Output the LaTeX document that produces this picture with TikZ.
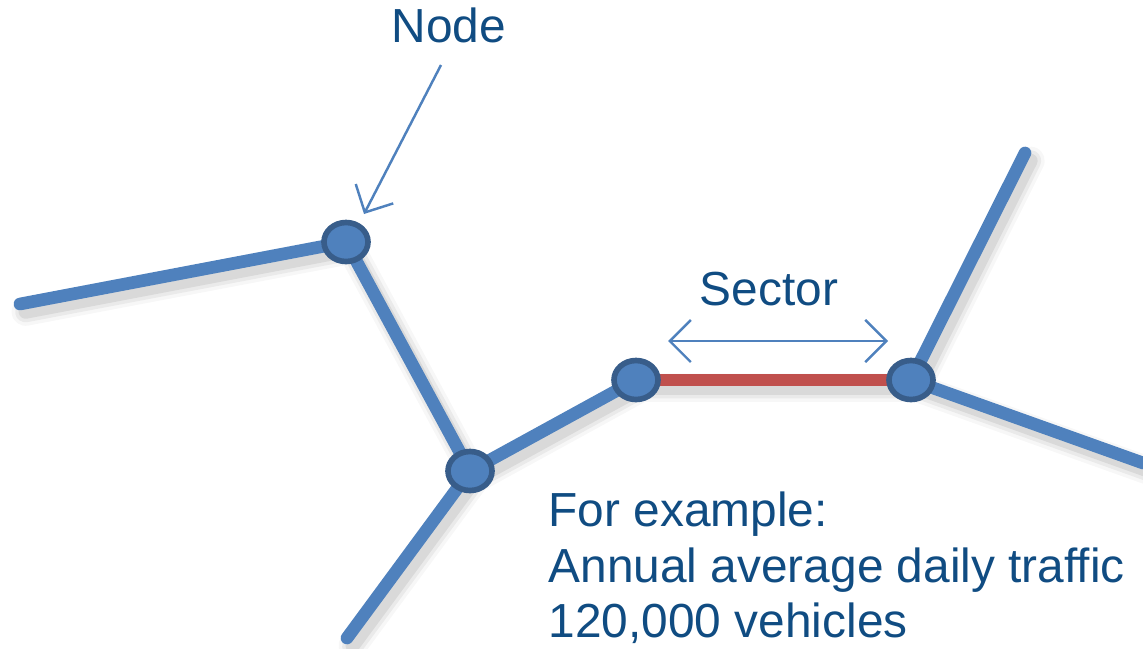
\documentclass[tikz,border=0pt]{standalone}
\usepackage{fontspec}
\setmainfont{Liberation Sans}
\usetikzlibrary{shapes.geometric,arrows.meta}
\definecolor{roadblue}{HTML}{4F81BD}
\definecolor{roadedge}{HTML}{385D8A}
\definecolor{sectorred}{HTML}{C0504D}
\definecolor{labelblue}{HTML}{104C82}
\tikzset{
  x=0.01cm, y=-0.01cm,
  junction/.style={ellipse, draw=roadedge, line width=1.6pt, fill=roadblue,
    minimum width=0.44cm, minimum height=0.39cm, inner sep=0pt},
  road/.style={draw=roadblue, line width=3.6pt, line cap=round},
  sector/.style={draw=sectorred, line width=3.4pt},
  barb/.tip={Straight Barb[length=6pt,width=12pt,line width=0.7pt]},
  pointer/.style={draw=roadblue, line width=0.7pt, -{barb}},
  span/.style={draw=roadblue, line width=0.7pt, {barb}-{barb}},
  caption/.style={text=labelblue, font=\fontsize{13.6pt}{16pt}\selectfont, inner sep=0pt}
}
\begin{document}
\begin{tikzpicture}
\useasboundingbox (0,0) rectangle (1143,648);
% junctions and free road ends
\coordinate (A) at (346,242);
\coordinate (B) at (470,471);
\coordinate (C) at (636,380);
\coordinate (D) at (911,380);
\coordinate (west) at (20,304);
\coordinate (south) at (347,638);
\coordinate (north) at (1025,153);
\coordinate (east) at (1143,463);
% soft shadows under the roads
\foreach \w/\o in {8pt/0.03, 6pt/0.05, 4pt/0.07}{
  \draw[draw=black, line width=\w, opacity=\o, line cap=round, line join=round,
        transform canvas={shift={(1.6pt,-2.2pt)}}]
    (west) -- (A) -- (B) -- (south) (B) -- (C) -- (D) -- (north) (D) -- (east);
}
% roads
\draw[road] (west) -- (A) -- (B) -- (south);
\draw[road] (B) -- (C);
\draw[road] (D) -- (north);
\draw[road] (D) -- (east);
\draw[sector] (C) -- (D);
% junction markers
\node[junction] (nA) at (A) {};
\node[junction] (nB) at (B) {};
\node[junction] (nC) at (C) {};
\node[junction] (nD) at (D) {};
% labels
\node[caption, anchor=base] (nodelabel) at (449,42) {Node};
\coordinate (ptail) at (441,65);
\coordinate (phead) at (364,214);
\draw[pointer] (ptail) -- (phead);
\node[caption, anchor=base] (sectorlabel) at (769,305) {Sector};
\coordinate (sl) at (668,341);
\coordinate (sr) at (888,341);
\draw[span] (sl) -- (sr);
\node[caption, anchor=base west] (note1) at (548,526) {For example:};
\node[caption, anchor=base west] (note2) at (548,582) {Annual average daily traffic};
\node[caption, anchor=base west] (note3) at (548,637) {120,000 vehicles};
\end{tikzpicture}
\end{document}
